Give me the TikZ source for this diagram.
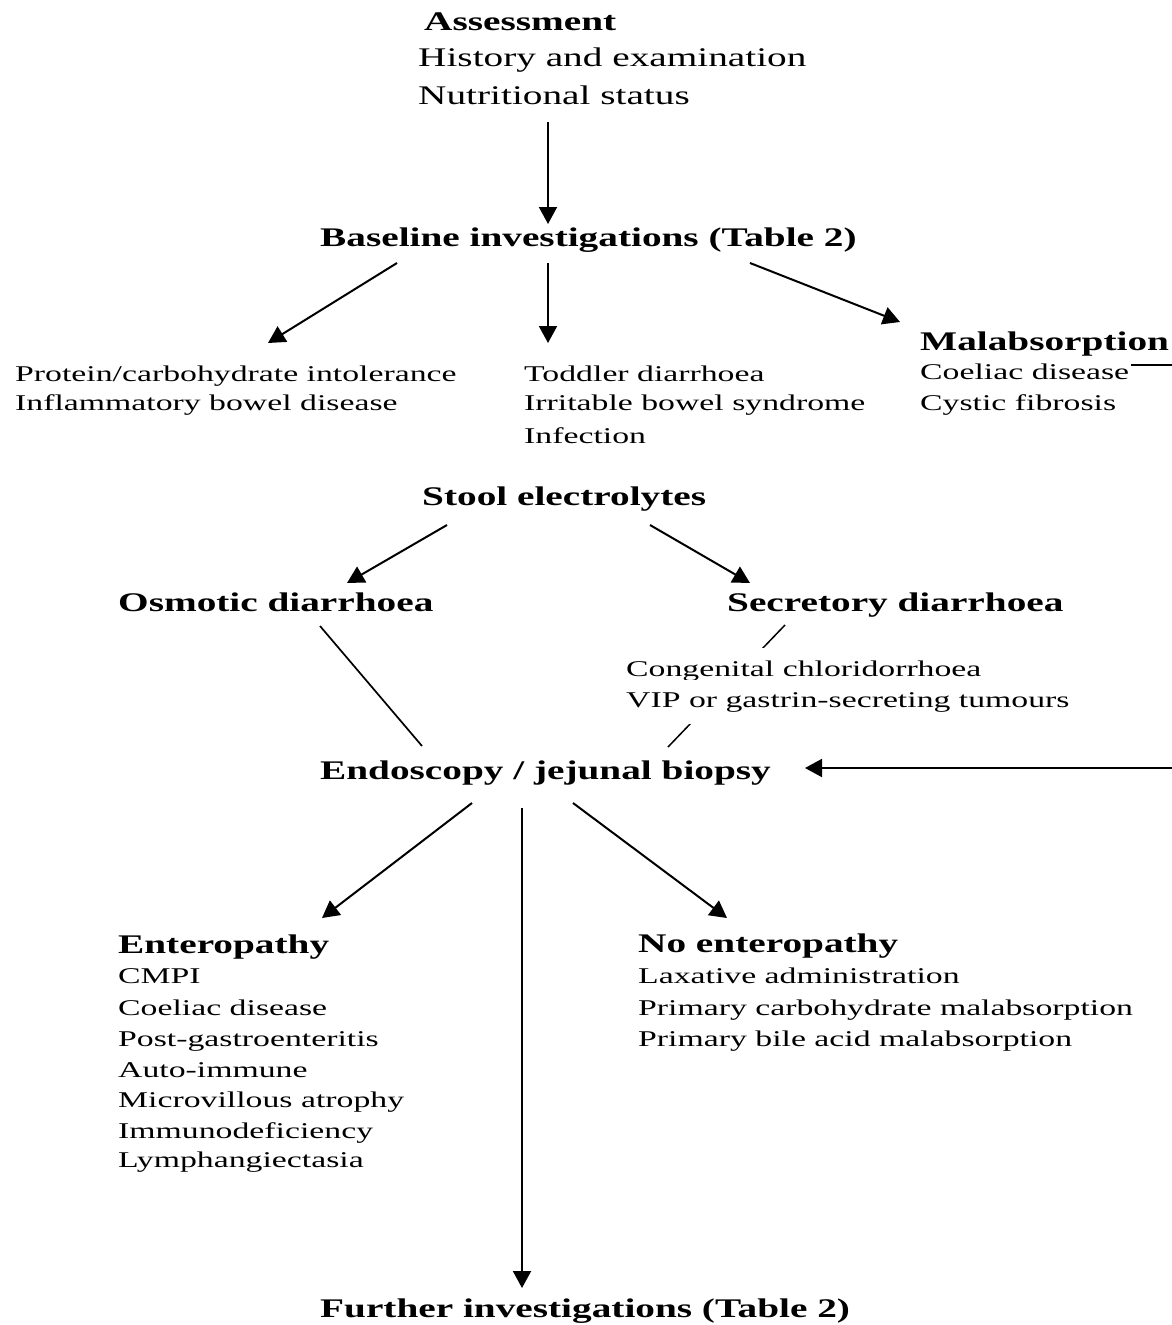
\documentclass[tikz,border=0pt]{standalone}
\usepackage{fontspec}
\setmainfont{Liberation Serif}[FakeStretch=1.50]
\newfontfamily\hfont{Liberation Serif}[FakeStretch=1.46]
\usetikzlibrary{arrows.meta,calc,backgrounds}
\tikzset{
  body/.style={anchor=base west, inner sep=0pt, font=\fontsize{22.5}{30}\selectfont},
  head/.style={anchor=base west, inner sep=0pt, font=\hfont\fontsize{26.9}{32}\selectfont\bfseries},
  headreg/.style={anchor=base west, inner sep=0pt, font=\hfont\fontsize{26.9}{32}\selectfont},
  arr/.style={line width=2pt, -{Triangle[length=17pt,width=18pt]}},
  plainline/.style={line width=1.7pt},
  cover/.style={fill=white, inner ysep=12pt, inner xsep=0pt}
}
\begin{document}
\begin{tikzpicture}[x=1pt,y=-1pt]
\useasboundingbox (0,0) rectangle (1172,1325);
% top block
\node[head] (assess) at (424,30) {Assessment};
\node[headreg] (hist) at (418,66) {History and examination};
\node[headreg] (nutr) at (418,104) {Nutritional status};
\node[head] (base) at (320,246) {Baseline investigations (Table 2)};
% level 2
\node[body] (prot) at (15,381) {Protein/carbohydrate intolerance};
\node[body] (ibd) at (15,410) {Inflammatory bowel disease};
\node[body] (todd) at (524,381) {Toddler diarrhoea};
\node[body] (ibs) at (524,410) {Irritable bowel syndrome};
\node[body] (inf) at (524,443) {Infection};
\node[head] (mal) at (920,350) {Malabsorption};
\node[body] (coel1) at (920,379) {Coeliac disease};
\node[body] (cf) at (920,410) {Cystic fibrosis};
% stool
\node[head] (stool) at (422,505) {Stool electrolytes};
\node[head] (osm) at (118,611) {Osmotic diarrhoea};
\node[head] (sec) at (727,611) {Secretory diarrhoea};
\node[body,cover] (cong) at (626,676) {Congenital chloridorrhoea};
\node[body,cover] (vip) at (626,707) {VIP or gastrin-secreting tumours};
% endoscopy
\node[head] (endo) at (320,779) {Endoscopy / jejunal biopsy};
\node[head] (ent) at (118,953) {Enteropathy};
\node[body] (e1) at (118,983) {CMPI};
\node[body] (e2) at (118,1015) {Coeliac disease};
\node[body] (e3) at (118,1046) {Post-gastroenteritis};
\node[body] (e4) at (118,1077) {Auto-immune};
\node[body] (e5) at (118,1107) {Microvillous atrophy};
\node[body] (e6) at (118,1138) {Immunodeficiency};
\node[body] (e7) at (118,1167) {Lymphangiectasia};
\node[head] (noent) at (638,952) {No enteropathy};
\node[body] (n1) at (638,983) {Laxative administration};
\node[body] (n2) at (638,1015) {Primary carbohydrate malabsorption};
\node[body] (n3) at (638,1046) {Primary bile acid malabsorption};
\node[head] (fur) at (320,1317) {Further investigations (Table 2)};
% edge coordinates (the loop runs along the page edge)
\coordinate (edgeA) at (1172,365);
\coordinate (edgeB) at (1172,768);
% connectors
\draw[arr] ($(nutr.base west)+(130,18)$) -- ($(base.base west)+(228,-22)$);
\draw[arr] ($(base.base west)+(77,17)$) -- ($(prot.base west)+(253,-38)$);
\draw[arr] ($(base.base west)+(228,17)$) -- ($(todd.base west)+(24,-38)$);
\draw[arr] ($(base.base west)+(430,17)$) -- ($(mal.base west)+(-20,-28)$);
\draw[arr] ($(stool.base west)+(25,20)$) -- ($(osm.base west)+(229,-28)$);
\draw[arr] ($(stool.base west)+(228,20)$) -- ($(sec.base west)+(23,-28)$);
\draw[plainline] ($(osm.base west)+(202,15)$) -- ($(endo.base west)+(102,-33)$);
\draw[arr] ($(endo.base west)+(152,24)$) -- ($(ent.base west)+(204,-35)$);
\draw[arr] ($(endo.base west)+(202,29)$) -- ($(fur.base west)+(202,-29)$);
\draw[arr] ($(endo.base west)+(253,24)$) -- ($(noent.base west)+(89,-34)$);
\draw[plainline] ($(coel1.base west)+(211,-14)$) -- (edgeA);
\draw[arr] (edgeB) -- ($(endo.base west)+(485,-11)$);
\begin{scope}[on background layer]
  \fill[white] (0,0) rectangle (1172,1325);
  \draw[plainline, line width=1.5pt] ($(sec.base west)+(58,14)$) -- ($(endo.base west)+(348,-32)$);
\end{scope}
\end{tikzpicture}
\end{document}
